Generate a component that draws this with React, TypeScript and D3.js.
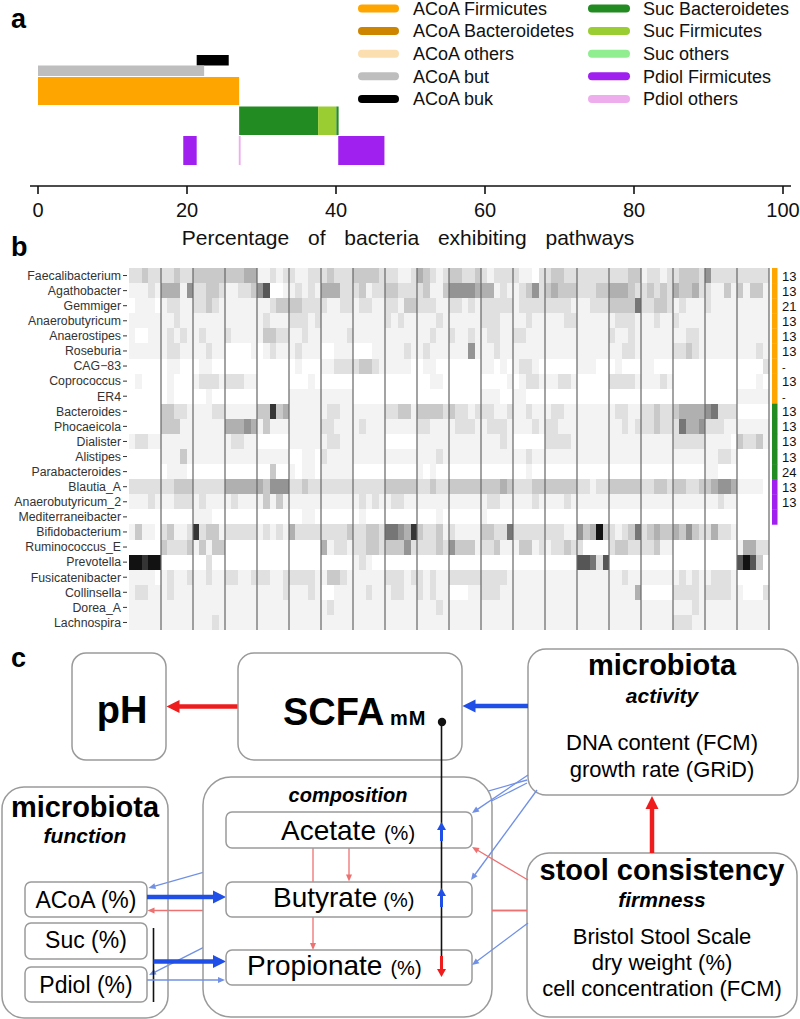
import React from 'react';
import * as d3 from 'd3';

// ---------- Panel a data ----------
const axisTicks = [0, 20, 40, 60, 80, 100];
const legendLeft = ['ACoA Firmicutes', 'ACoA Bacteroidetes', 'ACoA others', 'ACoA but', 'ACoA buk'];
const legendLeftColors = ['#FFA500', '#CD8500', '#FBDFB0', '#BEBEBE', '#000000'];
const legendRight = ['Suc Bacteroidetes', 'Suc Firmicutes', 'Suc others', 'Pdiol Firmicutes', 'Pdiol others'];
const legendRightColors = ['#228B22', '#9ACD32', '#90EE90', '#A020F0', '#EEAEEE'];

const bukSegs = [{ key: 'ACoA buk', from: 21.3, to: 25.6 }];
const butSegs = [{ key: 'ACoA but', from: 0, to: 22.3 }];
const acoaSegs = [{ key: 'ACoA Firmicutes', from: 0, to: 27.0 }];
const sucSegs = [
  { key: 'Suc Bacteroidetes', from: 27.0, to: 37.6 },
  { key: 'Suc Firmicutes', from: 37.6, to: 40.05 },
  { key: 'Suc Bacteroidetes', from: 40.05, to: 40.35 },
];
const pdiolSegs = [
  { key: 'Pdiol Firmicutes', from: 19.5, to: 21.3 },
  { key: 'Pdiol others', from: 26.95, to: 27.2 },
  { key: 'Pdiol Firmicutes', from: 40.3, to: 46.5 },
];

// ---------- Panel b data ----------
const genera = ['Faecalibacterium', 'Agathobacter', 'Gemmiger', 'Anaerobutyricum', 'Anaerostipes', 'Roseburia', 'CAG\u221283', 'Coprococcus', 'ER4', 'Bacteroides', 'Phocaeicola', 'Dialister', 'Alistipes', 'Parabacteroides', 'Blautia_A', 'Anaerobutyricum_2', 'Mediterraneibacter', 'Bifidobacterium', 'Ruminococcus_E', 'Prevotella', 'Fusicatenibacter', 'Collinsella', 'Dorea_A', 'Lachnospira'];
const geneCounts = ['13', '13', '21', '13', '13', '13', '-', '13', '-', '13', '13', '13', '13', '24', '13', '13', '', '', '', '', '', '', '', ''];
const pathwayGroup = ['ACoA', 'ACoA', 'ACoA', 'ACoA', 'ACoA', 'ACoA', 'ACoA', 'ACoA', 'ACoA', 'Suc', 'Suc', 'Suc', 'Suc', 'Suc', 'Pdiol', 'Pdiol', 'Pdiol', '', '', '', '', '', '', ''];
const groupColor = { ACoA: '#FFA500', Suc: '#228B22', Pdiol: '#A020F0' };
// gray level per sample (0 = white, 9 = black); 20 subjects x 5 samples
const abundance = [
  '22322 22322 33333 33344 11212 21122 23222 33332 22112 43212 33223 21222 21102 23322 22222 22233 12212 23332 52222 22222',
  '11121 44415 22332 11223 57001 12121 44422 23122 33222 23113 55554 44121 12352 34333 22233 44432 23232 43342 21131 31331',
  '01110 12211 22321 11111 11233 33222 21122 12211 22133 22211 22121 22222 12222 22221 11222 33336 22332 12111 21111 11111',
  '11111 11211 11111 11111 12111 22212 11111 11111 21211 11121 11111 22211 11211 11122 11111 12221 11211 21111 11111 11111',
  '10011 12121 12111 21111 13322 11211 11112 11111 11111 11211 21121 12211 22111 11111 11111 21121 11111 11221 11111 11111',
  '11111 12211 11211 00001 01211 12111 00111 00011 11121 12111 11151 11211 11111 11111 11111 11221 11111 22321 11111 11121',
  '00000 01100 01100 00000 00000 01000 11222 23321 11110 01100 00000 11010 12210 00000 11100 01000 11000 00000 00000 00002',
  '01000 01000 12221 22211 00000 00010 00000 00000 00000 00110 00000 00001 01221 11221 00000 22221 11121 00000 00000 00010',
  '00000 01000 00100 00000 00000 11111 11111 00000 00000 00000 00000 11100 11000 00000 00000 00000 00000 00000 00000 11111',
  '00000 33221 11122 11111 33834 11111 12211 11111 22331 33332 32212 22112 11211 12211 11111 12211 22322 34444 56222 00000',
  '00000 33311 11111 44454 13111 11111 22111 12111 11111 22111 12221 12221 11121 22111 11111 11212 22322 26445 22211 11111',
  '12211 11111 11111 12211 00000 11111 12211 11111 00000 11111 11111 11121 00000 22221 11111 11111 11111 22222 11110 32231',
  '00000 11131 11111 11111 11111 00110 21111 11111 11111 11121 11111 11111 11211 11111 11111 11111 11111 11111 11221 00000',
  '00000 01110 00000 00000 00300 10110 11111 00000 00000 10100 00000 00000 00100 00000 00000 00000 00000 00000 11000 00000',
  '22222 22333 22222 44444 43555 22322 22222 22222 33333 22322 33333 33343 22233 33333 22122 33333 22332 33223 34554 11110',
  '11121 11222 12111 12111 13131 11111 11111 12121 12211 11111 11111 12211 11121 11121 11111 11111 11111 11111 11211 00000',
  '00000 00000 11100 00000 00000 00110 00000 01000 00000 00010 00000 10000 00000 00000 00000 00000 00000 00000 00000 00000',
  '13110 23112 82331 22222 12121 42222 22223 22332 66548 32231 21111 33226 22222 22211 53493 21236 23433 43532 24221 00000',
  '00000 32223 13133 00000 00000 00000 41221 22332 33352 22232 53331 22311 13312 12232 20000 23322 22311 00000 00000 14422',
  '99899 00000 00200 00000 00000 00000 00000 12100 00000 00000 00000 00000 00000 00000 77627 00000 00000 00000 00000 79730',
  '11110 12112 11211 22112 22112 22221 13321 11111 22212 21211 22222 22221 11111 11111 11111 11211 11111 12121 12221 00000',
  '12211 12111 11111 11111 11112 11121 00111 11211 12211 21211 00011 22211 11111 11111 11111 11114 00000 22221 22221 10002',
  '11111 11111 11111 11111 11111 11111 12111 11111 11111 11121 11111 11111 11111 11111 11111 11111 11111 11121 11111 11111',
  '11111 11111 11121 11111 11111 11111 11111 11111 11111 11111 11111 11111 11111 11111 11111 11111 11111 22211 11111 11111',
];
const samplesPerSubject = 5;

const FONT = '"Liberation Sans", Arial, Helvetica, sans-serif';
const RED = '#EE1C1C';
const BLUE = '#1F4FE6';
const LRED = '#EE7070';
const LBLUE = '#7090E6';
const BOX = '#9A9A9A';

function Arrow({ x1, y1, x2, y2, w, hl, hw, color }) {
  const dx = x2 - x1, dy = y2 - y1, L = Math.hypot(dx, dy);
  const ux = dx / L, uy = dy / L;
  const bx = x2 - ux * hl, by = y2 - uy * hl;
  const px = -uy, py = ux;
  return (
    <g>
      <line x1={x1} y1={y1} x2={bx + ux * 0.5} y2={by + uy * 0.5} stroke={color} strokeWidth={w} />
      <polygon points={`${x2},${y2} ${bx + px * hw / 2},${by + py * hw / 2} ${bx - px * hw / 2},${by - py * hw / 2}`} fill={color} />
    </g>
  );
}
const Thick = (p) => <Arrow {...p} w={4.5} hl={13} hw={13} />;
const Thin = (p) => <Arrow {...p} w={1.3} hl={7} hw={6} />;
const Small = (p) => <Arrow {...p} w={3} hl={8} hw={9} />;

export default function App() {
  // Panel a scales
  const xA = d3.scaleLinear().domain([0, 100]).range([38, 783]);
  const colorMap = {};
  legendLeft.forEach((k, i) => (colorMap[k] = legendLeftColors[i]));
  legendRight.forEach((k, i) => (colorMap[k] = legendRightColors[i]));
  const barRows = [
    { segs: bukSegs, y: 55, h: 10.5 },
    { segs: butSegs, y: 65.5, h: 10.5 },
    { segs: acoaSegs, y: 77, h: 28 },
    { segs: sucSegs, y: 106.5, h: 28.5 },
    { segs: pdiolSegs, y: 136, h: 29 },
  ];

  // Panel b scales
  const nCols = abundance[0].replace(/ /g, '').length;
  const colIdx = d3.range(nCols);
  const xB = d3.scaleBand().domain(colIdx).range([129, 769]);
  const yB = d3.scaleBand().domain(genera).range([268, 630]);
  const gray = d3.scalePow().exponent(1.35).domain([0, 9]).range([255, 18]);
  const nSubjects = nCols / samplesPerSubject;
  const cells = [];
  abundance.forEach((row, r) => {
    row.replace(/ /g, '').split('').forEach((ch, c) => {
      const g = Math.round(gray(+ch));
      cells.push({ r, c, fill: `rgb(${g},${g},${g})` });
    });
  });

  return (
    <svg width={800} height={1019} style={{ position: 'absolute', left: 0, top: 0, background: '#fff' }} fontFamily={FONT}>
      <rect width={800} height={1019} fill="#fff" />
      {/* ---------------- Panel a ---------------- */}
      <text x={11} y={28} fontSize={27} fontWeight="bold">a</text>
      {barRows.map((row, i) =>
        row.segs.map((s, j) => (
          <rect key={`b${i}-${j}`} x={xA(s.from)} y={row.y} width={xA(s.to) - xA(s.from)} height={row.h} fill={colorMap[s.key]} />
        ))
      )}
      <line x1={30} x2={791} y1={186} y2={186} stroke="#111" strokeWidth={1.6} />
      {axisTicks.map((t) => (
        <g key={t}>
          <line x1={xA(t)} x2={xA(t)} y1={186} y2={194} stroke="#111" strokeWidth={1.6} />
          <text x={xA(t)} y={217} fontSize={20} textAnchor="middle" fill="#111">{t}</text>
        </g>
      ))}
      <text x={408} y={245} fontSize={21} textAnchor="middle" fill="#111" wordSpacing={13}>
        Percentage of bacteria exhibiting pathways
      </text>
      {legendLeft.map((k, i) => (
        <g key={k}>
          <line x1={362} x2={395} y1={8.5 + i * 22.6} y2={8.5 + i * 22.6} stroke={legendLeftColors[i]} strokeWidth={8} strokeLinecap="round" />
          <text x={413} y={14.8 + i * 22.6} fontSize={18} fill="#111">{k}</text>
        </g>
      ))}
      {legendRight.map((k, i) => (
        <g key={k}>
          <line x1={592} x2={626} y1={8.5 + i * 22.6} y2={8.5 + i * 22.6} stroke={legendRightColors[i]} strokeWidth={8} strokeLinecap="round" />
          <text x={643} y={14.8 + i * 22.6} fontSize={18} fill="#111">{k}</text>
        </g>
      ))}

      {/* ---------------- Panel b ---------------- */}
      <text x={11} y={256} fontSize={27} fontWeight="bold">b</text>
      <g shapeRendering="crispEdges">
        {cells.map((d) => (
          <rect key={`c${d.r}-${d.c}`} x={xB(d.c)} y={yB(genera[d.r])} width={xB.bandwidth() + 0.4} height={yB.bandwidth() + 0.4} fill={d.fill} />
        ))}
      </g>
      {d3.range(1, nSubjects + 1).map((k) => {
        const x = k < nSubjects ? xB(k * samplesPerSubject) : xB.range()[1];
        return <line key={`v${k}`} x1={x} x2={x} y1={268} y2={630} stroke="#666" strokeWidth={1.2} />;
      })}
      {genera.map((g, i) => (
        <g key={g}>
          <text x={121} y={yB(g) + yB.bandwidth() / 2 + 4.3} fontSize={12.3} textAnchor="end" fill="#333">{g}</text>
          <line x1={123} x2={127} y1={yB(g) + yB.bandwidth() / 2} y2={yB(g) + yB.bandwidth() / 2} stroke="#333" strokeWidth={1} />
          {pathwayGroup[i] && (
            <rect x={772} y={yB(g)} width={5.5} height={yB.bandwidth() + 0.3} fill={groupColor[pathwayGroup[i]]} />
          )}
          {geneCounts[i] && (
            <text x={782} y={yB(g) + yB.bandwidth() / 2 + 5} fontSize={geneCounts[i] === '-' ? 11 : 13} fill="#111">{geneCounts[i]}</text>
          )}
        </g>
      ))}

      {/* ---------------- Panel c ---------------- */}
      <text x={11} y={667} fontSize={27} fontWeight="bold">c</text>

      {/* pH */}
      <rect x={72} y={653} width={94} height={107} rx={14} fill="#fff" stroke={BOX} strokeWidth={1.5} />
      <text x={122} y={723} fontSize={38} fontWeight="bold" textAnchor="middle">pH</text>
      <Thick x1={238} y1={706.5} x2={166.5} y2={706.5} color={RED} />

      {/* SCFA */}
      <rect x={238} y={653} width={224} height={107} rx={16} fill="#fff" stroke={BOX} strokeWidth={1.5} />
      <text x={283} y={725} fontSize={38} fontWeight="bold">SCFA</text>
      <text x={390} y={725} fontSize={20} fontWeight="bold" letterSpacing={1}>mM</text>

      {/* microbiota activity */}
      <rect x={528} y={649} width={270} height={146} rx={18} fill="#fff" stroke={BOX} strokeWidth={1.5} />
      <text x={662} y={675} fontSize={29} fontWeight="bold" textAnchor="middle">microbiota</text>
      <text x={662} y={703} fontSize={21} fontWeight="bold" fontStyle="italic" textAnchor="middle">activity</text>
      <text x={662} y={750} fontSize={22} textAnchor="middle">DNA content (FCM)</text>
      <text x={662} y={777} fontSize={22} textAnchor="middle">growth rate (GRiD)</text>
      <Thick x1={528} y1={706} x2={462.5} y2={706} color={BLUE} />

      {/* stool consistency */}
      <rect x={527} y={853} width={270} height={164} rx={22} fill="#fff" stroke={BOX} strokeWidth={1.5} />
      <text x={662} y={880} fontSize={29} fontWeight="bold" textAnchor="middle">stool consistency</text>
      <text x={662} y={907} fontSize={21} fontWeight="bold" fontStyle="italic" textAnchor="middle">firmness</text>
      <text x={662} y={944} fontSize={22} textAnchor="middle">Bristol Stool Scale</text>
      <text x={662} y={970} fontSize={22} textAnchor="middle">dry weight (%)</text>
      <text x={662} y={996} fontSize={22} textAnchor="middle">cell concentration (FCM)</text>
      <Thick x1={652} y1={853} x2={652} y2={796} color={RED} />

      {/* arrows hidden behind composition box */}
      <Thin x1={527} y1={780} x2={148.5} y2={888} color={LBLUE} />
      <Thin x1={527} y1={783} x2={149} y2={975} color={LBLUE} />
      <Thin x1={527} y1={910.5} x2={147.5} y2={910.5} color={LRED} />

      {/* microbiota function */}
      <rect x={2} y={787} width={166} height={231} rx={22} fill="none" stroke={BOX} strokeWidth={1.5} />
      <text x={85} y={817} fontSize={29} fontWeight="bold" textAnchor="middle">microbiota</text>
      <text x={85} y={843} fontSize={21} fontWeight="bold" fontStyle="italic" textAnchor="middle">function</text>
      <rect x={25} y={882} width={122} height={35} rx={6} fill="#fff" stroke={BOX} strokeWidth={1.5} />
      <text x={86} y={908} fontSize={23} textAnchor="middle">ACoA (%)</text>
      <rect x={25} y={923} width={122} height={36} rx={6} fill="#fff" stroke={BOX} strokeWidth={1.5} />
      <text x={86} y={948} fontSize={23} textAnchor="middle">Suc (%)</text>
      <rect x={25} y={967} width={122} height={35} rx={6} fill="#fff" stroke={BOX} strokeWidth={1.5} />
      <text x={86} y={993} fontSize={23} textAnchor="middle">Pdiol (%)</text>
      <line x1={153.5} x2={153.5} y1={928} y2={1002} stroke="#111" strokeWidth={1.6} />

      {/* composition */}
      <rect x={203} y={777} width={289} height={240} rx={28} fill="#fff" stroke={BOX} strokeWidth={1.5} />
      <text x={348} y={802} fontSize={20} fontWeight="bold" fontStyle="italic" textAnchor="middle">composition</text>

      <Thick x1={147} y1={897} x2={226} y2={897} color={BLUE} />
      <Thick x1={153.5} y1={961.5} x2={226} y2={961.5} color={BLUE} />
      <Thin x1={147} y1={980} x2={225} y2={980} color={LBLUE} />

      <Thin x1={313} y1={848} x2={313} y2={950} color={LRED} />
      <Thin x1={349} y1={848} x2={349} y2={881.5} color={LRED} />

      <rect x={226} y={812} width={246} height={36} rx={6} fill="#fff" stroke={BOX} strokeWidth={1.5} />
      <text x={281} y={840} fontSize={28}>Acetate<tspan fontSize={20} dx={8}>(%)</tspan></text>
      <rect x={226} y={882} width={246} height={35} rx={6} fill="#fff" stroke={BOX} strokeWidth={1.5} />
      <text x={273} y={907} fontSize={28}>Butyrate<tspan fontSize={20} dx={6}>(%)</tspan></text>
      <rect x={226} y={950} width={246} height={35} rx={6} fill="#fff" stroke={BOX} strokeWidth={1.5} />
      <text x={247} y={975} fontSize={28}>Propionate<tspan fontSize={20} dx={8}>(%)</tspan></text>

      {/* arrows over composition box */}
      <Thin x1={528} y1={775} x2={472} y2={813} color={LBLUE} />
      <Thin x1={537} y1={790} x2={471} y2={880} color={LBLUE} />
      <Thin x1={528} y1={923} x2={472} y2={965} color={LBLUE} />
      <Thin x1={528} y1={880} x2={472} y2={847} color={LRED} />
      <line x1={492} x2={527} y1={910.5} y2={910.5} stroke={LRED} strokeWidth={1.3} />

      {/* SCFA link line */}
      <line x1={441.5} x2={441.5} y1={722} y2={957} stroke="#111" strokeWidth={1.6} />
      <circle cx={442} cy={722} r={4.2} fill="#111" />
      <Small x1={441.5} y1={841} x2={441.5} y2={822} color={BLUE} />
      <Small x1={441.5} y1={907} x2={441.5} y2={888} color={BLUE} />
      <Small x1={441.5} y1={956} x2={441.5} y2={977} color={RED} />
    </svg>
  );
}
